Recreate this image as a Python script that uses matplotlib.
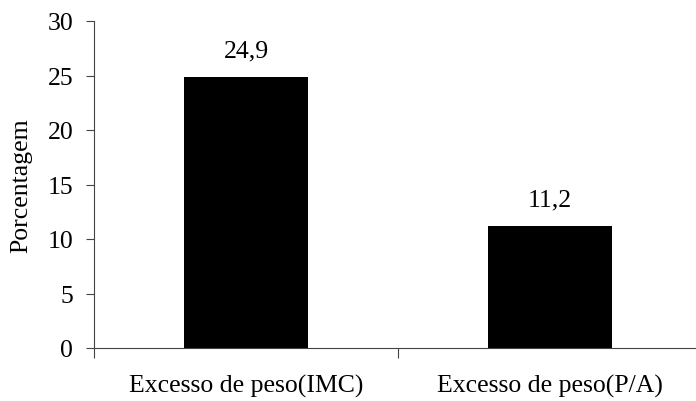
import matplotlib.pyplot as plt

categories = ['Excesso de peso(IMC)', 'Excesso de peso(P/A)']
values = [24.9, 11.2]
labels = ['24,9', '11,2']
yticks = [0, 5, 10, 15, 20, 25, 30]

plt.rcParams['font.family'] = ['Liberation Serif', 'DejaVu Serif']
plt.rcParams['font.size'] = 18.5

fig = plt.figure(figsize=(6.96, 4.02), dpi=100)
ax = fig.add_axes([94 / 696, 53 / 402, 608 / 696, 327 / 402])

x = range(len(categories))
bars = ax.bar(x, values, width=0.408, color='black')
for b, lab in zip(bars, labels):
    ax.annotate(lab, (b.get_x() + b.get_width() / 2, b.get_height()),
                xytext=(0, 11), textcoords='offset points',
                ha='center', va='bottom')

ax.set_xlim(-0.5, 1.5)
ax.set_ylim(0, 30)
ax.set_yticks(yticks)
# ticks sit on the category boundaries, labels in the middle
ax.set_xticks([-0.5, 0.5, 1.5])
ax.set_xticklabels([])
ax.set_xticks(list(x), minor=True)
ax.set_xticklabels(categories, minor=True)
ax.tick_params(axis='x', which='minor', length=0, pad=19)
ax.tick_params(axis='x', which='major', length=7, direction='out', color='#444')
ax.tick_params(axis='y', length=6, direction='out', color='#444', pad=9)
ax.spines['top'].set_visible(False)
ax.spines['right'].set_visible(False)
ax.spines['left'].set_color('#444')
ax.spines['bottom'].set_color('#444')
ax.set_ylabel('Porcentagem', labelpad=11)

fig.savefig('out.png', dpi=100)
